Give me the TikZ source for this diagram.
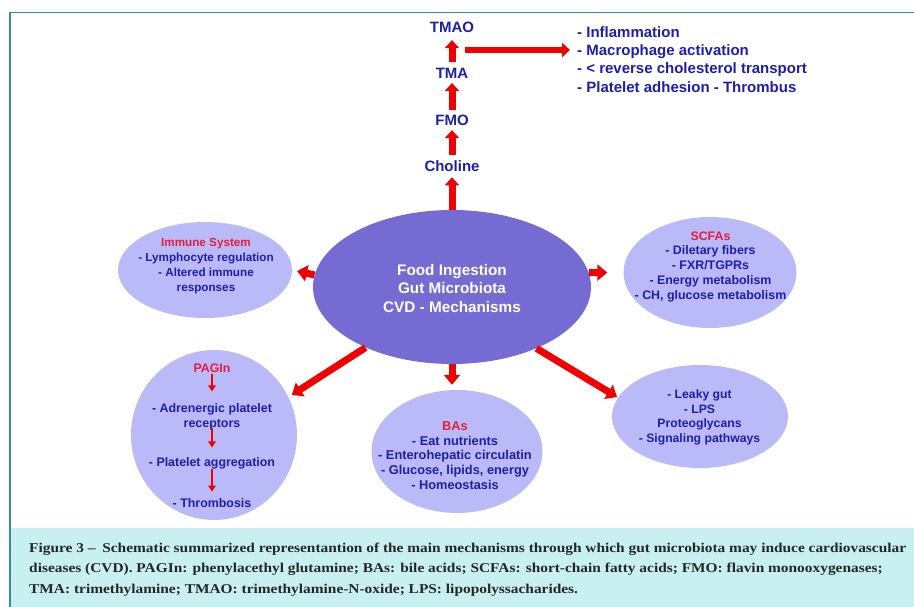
\documentclass[tikz,border=0pt]{standalone}
\usepackage{fontspec}
\setmainfont{Liberation Sans}
\newfontfamily\capfont[FakeStretch=1.14]{Liberation Serif}
\usetikzlibrary{arrows.meta,shapes.geometric}
\definecolor{dblue}{RGB}{30,30,170}
\definecolor{lred}{RGB}{228,30,60}
\definecolor{ared}{RGB}{240,0,0}
\definecolor{central}{RGB}{117,107,210}
\definecolor{light}{RGB}{186,186,248}
\definecolor{capbg}{RGB}{200,240,241}
\definecolor{frame}{RGB}{55,145,135}
\tikzset{
  bigell/.style={ellipse, fill=central, inner sep=0},
  satell/.style={ellipse, fill=light, inner sep=0},
  chainlbl/.style={inner sep=0, text=dblue, font=\fontsize{15}{18.5}\selectfont\bfseries},
  centertxt/.style={inner sep=0, text=white, align=center, font=\fontsize{15.3}{18.5}\selectfont\bfseries},
  efftxt/.style={inner sep=0, text=dblue, align=left, font=\fontsize{15}{18.3}\selectfont\bfseries},
  sattxt/.style={inner sep=0, text=dblue, align=center, font=\fontsize{#1}{14.8}\selectfont\bfseries},
  sattxt/.default=12.4,
  chainarrow/.style={draw=ared, line width=7pt, -{Triangle[width=14pt,length=8pt]}},
  bigarrow/.style={draw=ared, line width=7pt, -{Triangle[width=16pt,length=10pt]}},
  smallarrow/.style={draw=ared, line width=2.6pt, -{Triangle[width=7.5pt,length=6pt]}},
  captxt/.style={inner sep=0, align=left, text=black!85, font=\capfont\fontsize{13.5}{20.5}\selectfont\bfseries}
}
\begin{document}
\begin{tikzpicture}[x=1pt,y=-1pt]
\useasboundingbox (0,0) rectangle (914,607);
% caption box and frame
\fill[capbg] (10,528) rectangle (914,607);
\draw[frame, line width=1.6pt] (10,607) -- (10,12.5) -- (914,12.5);

% ellipses
\node[bigell, minimum width=278pt, minimum height=154pt] (center) at (452,287) {};
\node[satell, minimum width=174pt, minimum height=96pt] (imm) at (205,270) {};
\node[satell, minimum width=173pt, minimum height=111pt] (scfa) at (710,272.5) {};
\node[satell, minimum width=166pt, minimum height=170pt] (pagin) at (214,435) {};
\node[satell, minimum width=171pt, minimum height=123pt] (bas) at (457,451.5) {};
\node[satell, minimum width=176pt, minimum height=103pt] (leaky) at (700,416.5) {};

% texts
\node[centertxt] (centert) at (452,288.5) {Food Ingestion\\Gut Microbiota\\CVD - Mechanisms};
\node[sattxt=11.7] (immt) at (206,266) {{\color{lred}Immune System}\\- Lymphocyte regulation\\- Altered immune\\responses};
\node[sattxt=12.4] (scfat) at (710.5,266.7) {{\color{lred}SCFAs}\\- Diletary fibers\\- FXR/TGPRs\\- Energy metabolism\\- CH, glucose metabolism};
\node[sattxt=12.8] (bast) at (455,455.5) {{\color{lred}BAs}\\- Eat nutrients\\- Enterohepatic circulatin\\- Glucose, lipids, energy\\- Homeostasis};
\node[sattxt=12.2] (leakyt) at (699.5,417.4) {- Leaky gut\\- LPS\\Proteoglycans\\- Signaling pathways};

\node[sattxt=12.4, text=lred] (pag) at (212,368) {PAGIn};
\node[sattxt=12.4] (adr) at (212,416.7) {- Adrenergic platelet\\receptors};
\node[sattxt=12.4] (agg) at (212,463) {- Platelet aggregation};
\node[sattxt=12.4] (thr) at (212,502.9) {- Thrombosis};
\draw[smallarrow, shorten <=1pt, shorten >=12pt] (pag.south) -- (adr.north);
\draw[smallarrow, shorten <=-2pt, shorten >=9.5pt] (adr.south) -- (agg.north);
\draw[smallarrow, shorten <=0pt, shorten >=6.5pt] (agg.south) -- (thr.north);

% chain
\node[chainlbl] (choline) at (452,166) {Choline};
\node[chainlbl] (fmo) at (452,120) {FMO};
\node[chainlbl] (tma) at (452,73.3) {TMA};
\node[chainlbl] (tmao) at (452,27) {TMAO};
\draw[chainarrow, shorten >=5.6pt] (center.north) -- (choline.south);
\draw[chainarrow, shorten <=5.6pt, shorten >=4.6pt] (choline.north) -- (fmo.south);
\draw[chainarrow, shorten <=4.6pt, shorten >=4.3pt] (fmo.north) -- (tma.south);
\draw[chainarrow, shorten <=5.9pt, shorten >=7.6pt] (tma.north) -- (tmao.south);

\node[efftxt, anchor=west] (effects) at (577,59.4) {- Inflammation\\- Macrophage activation\\- < reverse cholesterol transport\\- Platelet adhesion - Thrombus};
\coordinate (arm) at (465,50);
\draw[chainarrow, line width=6.7pt, shorten >=7pt] (arm) -- (arm -| effects.west);

% arrows from the centre
\draw[bigarrow, shorten >=5pt] (center.175) -- (imm.0);
\draw[bigarrow, shorten >=16pt] (center.6) -- (scfa.180);
\draw[bigarrow, shorten >=4pt] (center.-145) -- (pagin.27);
\draw[bigarrow, shorten >=5pt] (center.south) -- (center.south |- bas.north);
\draw[bigarrow, shorten >=1pt] (center.-36) -- (leaky.167);

% caption
\node[captxt, anchor=west] (caption) at (29,569.5) {Figure 3 –\enspace Schematic summarized representantion of the main mechanisms through which gut microbiota may induce cardiovascular\\diseases (CVD). PAGIn: phenylacethyl glutamine; BAs: bile acids; SCFAs: short-chain fatty acids; FMO: flavin monooxygenases;\\TMA: trimethylamine; TMAO: trimethylamine-N-oxide; LPS: lipopolyssacharides.};
\end{tikzpicture}
\end{document}
